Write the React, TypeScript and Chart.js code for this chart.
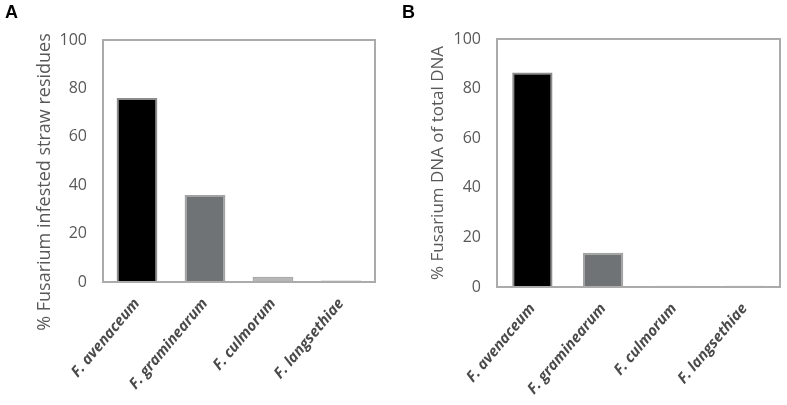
import React, { useEffect, useRef } from 'react';
import { Chart, registerables } from 'chart.js';

Chart.register(...registerables);

const categories = ['F. avenaceum', 'F. graminearum', 'F. culmorum', 'F. langsethiae'];
const infestedStraw = [76, 36, 2.2, 0.6];
const fusariumDNA = [86.5, 13.8, 0.5, 0.5];
const yTicks = [0, 20, 40, 60, 80, 100];
const titleA = '% Fusarium infested straw residues' + '\u00A0'.repeat(9);
const titleB = '% Fusarium DNA of total DNA';

const barFills = ['#000000', '#6f7375', '#b4b6b6', '#b0b0b0'];
const barBorders = ['#8c8c8c', '#a3a3a3', '#a8a8a8', '#9a9a9a'];

const frame = {
  id: 'frame',
  afterDatasetsDraw(chart: any) {
    const { ctx, chartArea: a } = chart;
    ctx.save();
    ctx.strokeStyle = '#ababab';
    ctx.lineWidth = 2;
    ctx.strokeRect(a.left, a.top, a.right - a.left, a.bottom - a.top);
    ctx.restore();
  },
};

type PanelProps = {
  values: number[];
  title: string;
  titleSize: number;
  left: number;
  width: number;
  yAxisWidth: number;
  xAxisHeight: number;
  padTop: number;
  padRight: number;
  titlePad: number;
  barPct: number;
  label: string;
};

function Panel(p: PanelProps) {
  const ref = useRef<HTMLCanvasElement>(null);
  useEffect(() => {
    const canvas = ref.current!;
    const chart = new Chart(canvas, {
      type: 'bar',
      data: {
        labels: categories,
        datasets: [
          {
            data: p.values,
            backgroundColor: barFills,
            borderColor: barBorders,
            borderWidth: 2,
            barPercentage: p.barPct,
            categoryPercentage: 1,
          },
        ],
      },
      options: {
        responsive: false,
        animation: false,
        devicePixelRatio: 1,
        layout: { padding: { top: p.padTop, right: p.padRight, left: 0, bottom: 0 } },
        plugins: { legend: { display: false }, tooltip: { enabled: false } },
        scales: {
          x: {
            grid: { display: false },
            border: { display: false },
            ticks: {
              autoSkip: false,
              maxRotation: 50,
              minRotation: 50,
              padding: 5,
              color: '#4a4a4a',
              font: { family: 'Open Sans', size: 15, weight: 'bold', style: 'italic' },
            },
            afterFit: (s: any) => {
              s.height = p.xAxisHeight;
            },
          },
          y: {
            min: 0,
            max: 100,
            grid: { display: false, drawTicks: false },
            border: { display: false },
            afterBuildTicks: (s: any) => {
              s.ticks = yTicks.map((v) => ({ value: v }));
            },
            ticks: {
              padding: 16,
              color: '#595959',
              font: { family: 'Open Sans', size: 16 },
            },
            title: {
              display: true,
              text: p.title,
              color: '#595959',
              font: { family: 'Open Sans', size: p.titleSize },
              padding: { top: p.titlePad, bottom: 0 },
            },
            afterFit: (s: any) => {
              s.width = p.yAxisWidth;
            },
          },
        },
      },
      plugins: [frame],
    });
    return () => chart.destroy();
  }, []);
  return (
    <div style={{ position: 'absolute', left: p.left, top: 0, width: p.width, height: 405 }}>
      <canvas ref={ref} width={p.width} height={405} style={{ display: 'block' }} />
      <div
        style={{
          position: 'absolute',
          left: p.label === 'A' ? 5 : 9,
          top: 2,
          font: 'bold 18px "Liberation Sans", Arial, sans-serif',
          color: '#000',
        }}
      >
        {p.label}
      </div>
    </div>
  );
}

export default function App() {
  return (
    <div style={{ position: 'absolute', left: 0, top: 0, width: 787, height: 405, background: '#fff' }}>
      <Panel
        values={infestedStraw}
        title={titleA}
        titleSize={18}
        left={0}
        width={393}
        yAxisWidth={103}
        xAxisHeight={123}
        padTop={40}
        padRight={18}
        titlePad={34}
        barPct={0.6}
        label="A"
      />
      <Panel
        values={fusariumDNA}
        title={titleB}
        titleSize={17}
        left={393}
        width={394}
        yAxisWidth={104}
        xAxisHeight={118}
        padTop={39}
        padRight={7}
        titlePad={35}
        barPct={0.57}
        label="B"
      />
    </div>
  );
}
